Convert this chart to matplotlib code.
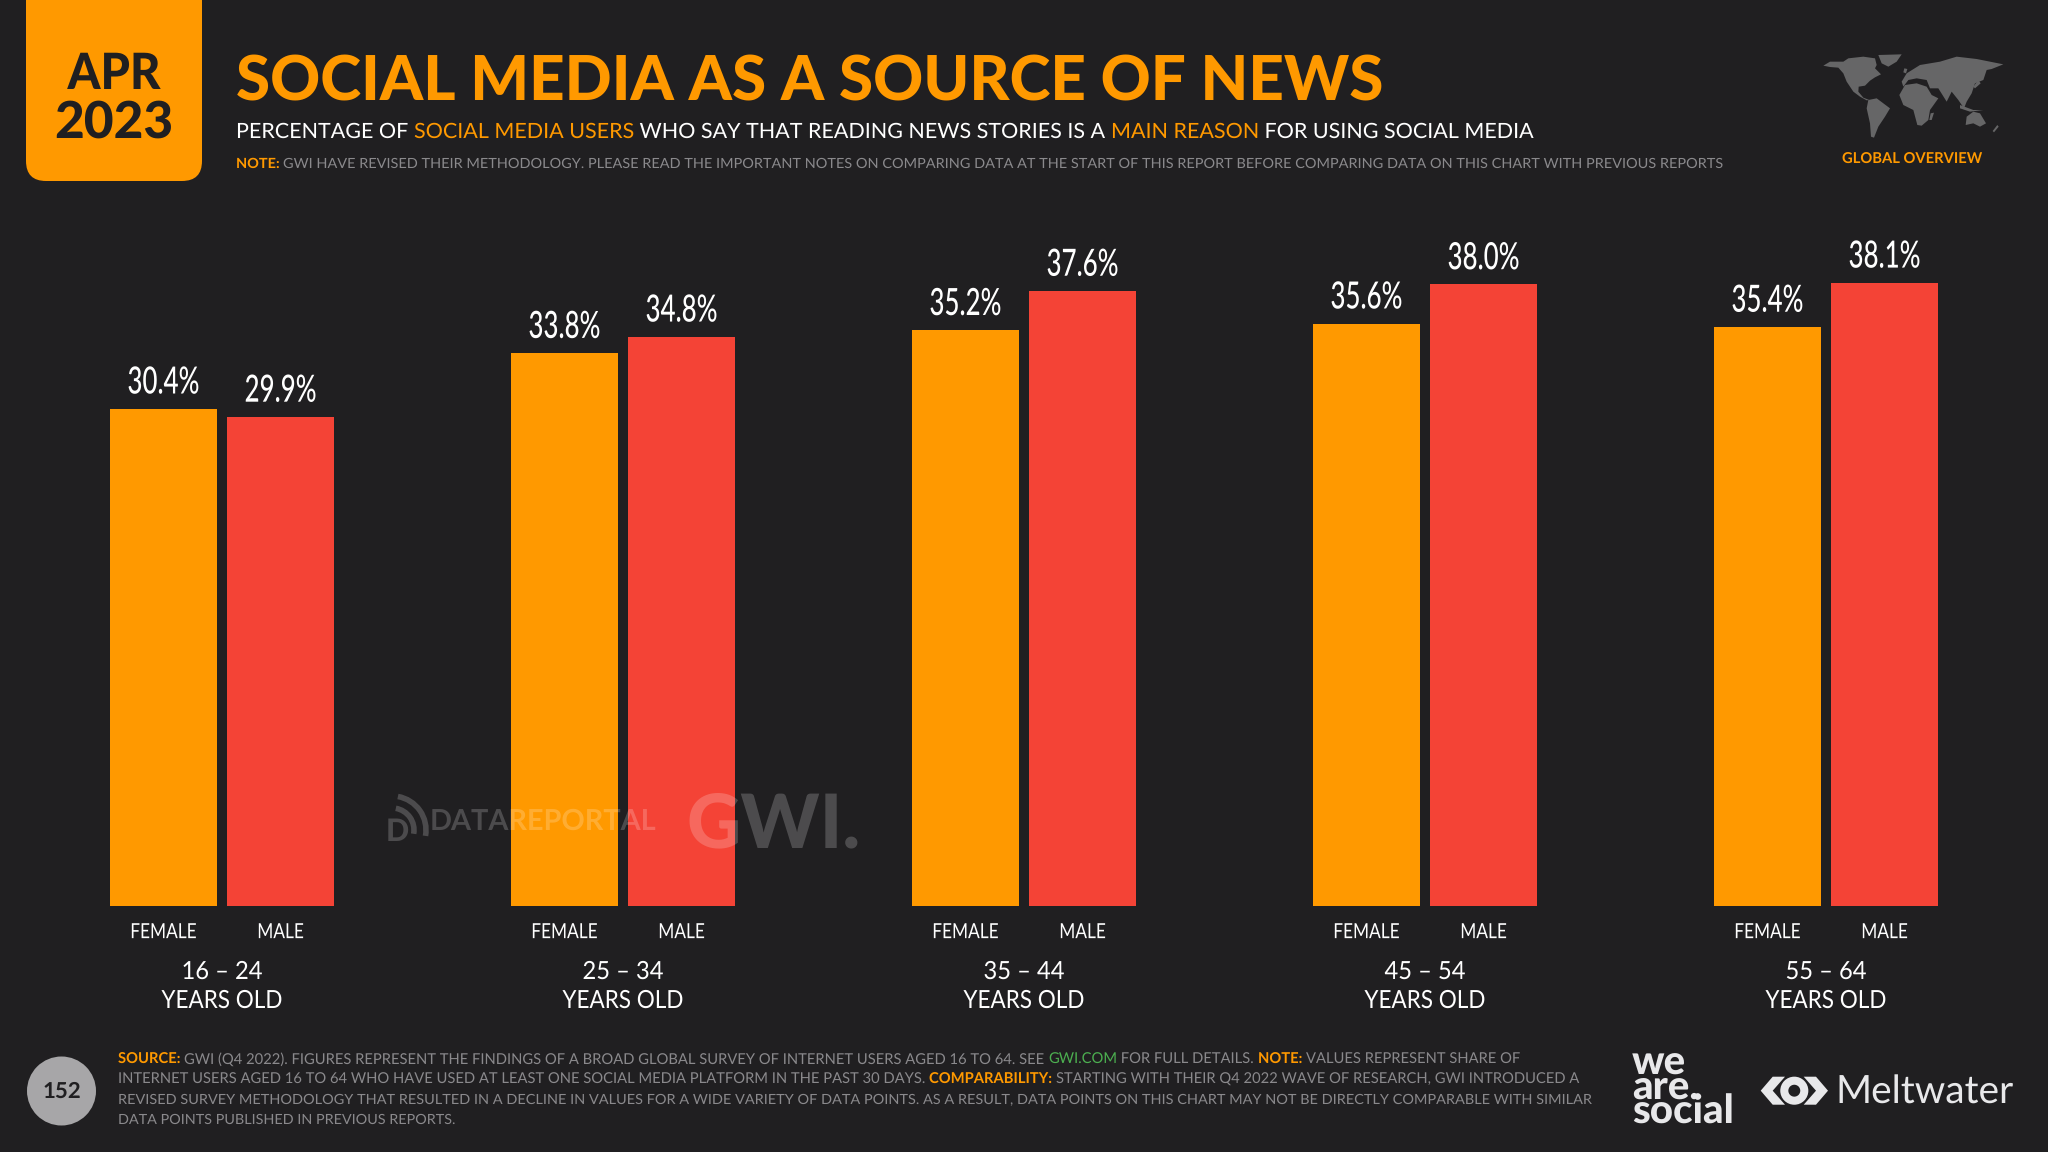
import matplotlib
matplotlib.use("Agg")
import matplotlib.pyplot as plt
from matplotlib.patches import FancyBboxPatch, Circle, Polygon, Arc
from matplotlib.patheffects import AbstractPathEffect
from matplotlib.transforms import Affine2D

plt.rcParams["text.hinting"] = "no_hinting"

BG = "#201f21"
ORANGE = "#ff9900"
RED = "#f44336"
GREY = "#8a898c"
FONT = ["Lato", "DejaVu Sans"]

age_groups = ["16 – 24", "25 – 34", "35 – 44", "45 – 54", "55 – 64"]
female = [30.4, 33.8, 35.2, 35.6, 35.4]
male = [29.9, 34.8, 37.6, 38.0, 38.1]

W, H = 2048, 1152
fig = plt.figure(figsize=(W / 100, H / 100), dpi=100, facecolor=BG)


class Squeeze(AbstractPathEffect):
    # no condensed font is installed, so narrow the glyphs around their centre
    def __init__(self, sx):
        super().__init__()
        self.sx = sx

    def draw_path(self, renderer, gc, tpath, affine, rgbFace=None):
        e = tpath.get_extents()
        c = (e.x0 + e.x1) / 2
        a = Affine2D().translate(-c, 0).scale(self.sx, 1).translate(c, 0) + affine
        renderer.draw_path(gc, tpath, a, rgbFace)


# chart axes, one x unit is one age group
ax = fig.add_axes([21.5 / W, (H - 906) / H, 2005 / W, 736 / H], facecolor="none")
bw = 0.267
off = 0.146
xs = list(range(len(age_groups)))
b1 = ax.bar([x - off for x in xs], female, bw, color=ORANGE)
b2 = ax.bar([x + off for x in xs], male, bw, color=RED)
ax.set_xlim(-0.5, 4.5)
ax.set_ylim(0, 45)
ax.set_yticks([])
for s in ax.spines.values():
    s.set_visible(False)

ax.set_xticks([x - off for x in xs] + [x + off for x in xs])
ax.set_xticklabels(["FEMALE"] * 5 + ["MALE"] * 5, color="white", fontsize=15, family=FONT)
ax.tick_params(axis="x", length=0, pad=12)
for lab in ax.get_xticklabels():
    lab.set_path_effects([Squeeze(0.83)])

for bars, vals in ((b1, female), (b2, male)):
    for r, v in zip(bars, vals):
        ax.annotate(f"{v:.1f}%", (r.get_x() + r.get_width() / 2, v), xytext=(0, 11),
                    textcoords="offset points", ha="center", va="baseline",
                    color="white", fontsize=27, family=FONT, weight="medium",
                    path_effects=[Squeeze(0.69)])

for x, g in zip(xs, age_groups):
    for txt, dy, sq in ((g, -73 * 0.72, 0.95), ("YEARS OLD", -102 * 0.72, 0.9)):
        ax.annotate(txt, (x, 0), xycoords=ax.get_xaxis_transform(), xytext=(0, dy),
                    textcoords="offset points", ha="center", va="baseline",
                    color="white", fontsize=18, family=FONT, path_effects=[Squeeze(sq)])

# overlay in pixel coordinates for the slide furniture
ov = fig.add_axes([0, 0, 1, 1], facecolor="none", zorder=5)
ov.set_xlim(0, W)
ov.set_ylim(H, 0)
ov.axis("off")


def measure(s, **kw):
    r = fig.canvas.get_renderer()
    t = ov.text(0, 0, s + "|", **kw)
    a = t.get_window_extent(r).width
    t.set_text("|")
    b = t.get_window_extent(r).width
    t.remove()
    return a - b


def rich(x, y, parts, width):
    # parts: (text, colour, bold); font size is fitted to the target width
    size = 10
    for _ in range(3):
        w = sum(measure(p[0], fontsize=size, family=FONT, weight="bold" if p[2] else "normal") for p in parts)
        size = size * width / w
    for s, c, bold in parts:
        kw = dict(fontsize=size, family=FONT, weight="bold" if bold else "normal")
        ov.text(x, y, s, color=c, va="baseline", **kw)
        x += measure(s, **kw)


# date box
ov.add_patch(FancyBboxPatch((26, -40), 176, 221, boxstyle="round,pad=0,rounding_size=20", fc=ORANGE, ec="none"))
ov.text(114, 89, "APR", fontsize=36, family=FONT, weight="black", color=BG, ha="center", va="baseline",
        path_effects=[Squeeze(0.94)])
ov.text(114, 138, "2023", fontsize=37, family=FONT, weight="black", color=BG, ha="center", va="baseline")

# heading
ov.text(236, 99, "SOCIAL MEDIA AS A SOURCE OF NEWS", fontsize=44.6, family=FONT, weight="black",
        color=ORANGE, va="baseline")
rich(236, 138, [("PERCENTAGE OF ", "white", False), ("SOCIAL MEDIA USERS", ORANGE, False),
                (" WHO SAY THAT READING NEWS STORIES IS A ", "white", False), ("MAIN REASON", ORANGE, False),
                (" FOR USING SOCIAL MEDIA", "white", False)], 1297)
rich(236, 168, [("NOTE: ", ORANGE, True),
                ("GWI HAVE REVISED THEIR METHODOLOGY. PLEASE READ THE IMPORTANT NOTES ON COMPARING DATA "
                 "AT THE START OF THIS REPORT BEFORE COMPARING DATA ON THIS CHART WITH PREVIOUS REPORTS", GREY, False)], 1490)

# world map, rough outlines
north_america = [(40, 62), (60, 50), (100, 50), (115, 40), (160, 35), (195, 40), (200, 60), (195, 70), (213, 88),
                 (195, 97), (180, 107), (165, 122), (146, 125), (145, 140), (160, 158), (178, 165), (170, 166),
                 (150, 155), (130, 140), (110, 110), (100, 85), (85, 68), (60, 66)]
greenland = [(205, 30), (275, 28), (260, 50), (235, 65), (215, 55)]
south_america = [(175, 165), (200, 160), (240, 190), (225, 215), (205, 245), (192, 278), (183, 275), (180, 235), (170, 190)]
africa = [(285, 120), (320, 115), (350, 125), (365, 150), (385, 160), (360, 195), (355, 225), (335, 242), (322, 240),
          (310, 195), (280, 180), (268, 150)]
eurasia = [(275, 110), (290, 85), (330, 60), (390, 50), (440, 35), (500, 42), (580, 58), (545, 72), (530, 75), (520, 105),
           (495, 115), (485, 145), (470, 170), (462, 190), (445, 165), (425, 140), (410, 170), (385, 130), (360, 130),
           (350, 105), (320, 100), (295, 105), (280, 125)]
australia = [(470, 215), (490, 200), (510, 205), (528, 235), (510, 245), (490, 235), (467, 240)]
indonesia = [(450, 180), (490, 195), (520, 195), (480, 200), (450, 190)]
britain = [(283, 70), (292, 72), (288, 85), (280, 82)]
madagascar = [(362, 205), (372, 203), (365, 225), (358, 225)]
new_zealand = [(562, 240), (566, 245), (552, 262), (548, 258)]
japan = [(505, 105), (512, 115), (495, 130), (490, 125)]
for c in (north_america, greenland, south_america, africa, eurasia, australia, indonesia, britain,
          madagascar, new_zealand, japan):
    ov.add_patch(Polygon([(1810 + a / 3, 45 + b / 3) for a, b in c], fc="#666667", ec="none"))
ov.text(1912, 164, "GLOBAL OVERVIEW", fontsize=10.6, family=FONT, weight="bold", color=ORANGE,
        ha="center", va="baseline")

# footer
ov.add_patch(Circle((61.5, 1091), 34.5, fc="#a7a6a8", ec="none"))
ov.text(61.5, 1092, "152", fontsize=16, family=FONT, weight="bold", color=BG, ha="center", va="center")
rich(118, 1064, [("SOURCE: ", ORANGE, True),
                 ("GWI (Q4 2022). FIGURES REPRESENT THE FINDINGS OF A BROAD GLOBAL SURVEY OF INTERNET USERS AGED 16 TO 64. SEE ", GREY, False),
                 ("GWI.COM", "#4caf50", False), (" FOR FULL DETAILS. ", GREY, False), ("NOTE: ", ORANGE, True),
                 ("VALUES REPRESENT SHARE OF", GREY, False)], 1406)
rich(118, 1084, [("INTERNET USERS AGED 16 TO 64 WHO HAVE USED AT LEAST ONE SOCIAL MEDIA PLATFORM IN THE PAST 30 DAYS. ", GREY, False),
                 ("COMPARABILITY: ", ORANGE, True),
                 ("STARTING WITH THEIR Q4 2022 WAVE OF RESEARCH, GWI INTRODUCED A", GREY, False)], 1466)
rich(118, 1104, [("REVISED SURVEY METHODOLOGY THAT RESULTED IN A DECLINE IN VALUES FOR A WIDE VARIETY OF DATA POINTS. AS A RESULT, "
                  "DATA POINTS ON THIS CHART MAY NOT BE DIRECTLY COMPARABLE WITH SIMILAR", GREY, False)], 1468)
rich(118, 1124, [("DATA POINTS PUBLISHED IN PREVIOUS REPORTS.", GREY, False)], 336)

# logos
LOGO = "#e8e8ea"
ov.text(1632, 1124, "we\nare.\nsocial", fontsize=29, family=FONT, weight="black", color=LOGO, va="baseline",
        linespacing=0.61)
ov.add_patch(Polygon([(1760.7, 1090.7), (1772.7, 1076.7), (1785, 1076.7), (1772.7, 1090.7), (1785, 1104.7), (1772.7, 1104.7)],
                     fc=LOGO, ec="none"))
ov.add_patch(Polygon([(1828, 1090.7), (1816, 1076.7), (1803.7, 1076.7), (1816, 1090.7), (1803.7, 1104.7), (1816, 1104.7)],
                     fc=LOGO, ec="none"))
ov.add_patch(Circle((1794.3, 1090.7), 10, fc="none", ec=LOGO, lw=5.8))
ov.text(1835, 1104, "Meltwater", fontsize=28, family=FONT, weight="normal", color=LOGO, va="baseline")

# watermarks sit over the bars
WM = dict(color="white", alpha=0.2, va="baseline")
ov.text(430, 830, "DATAREPORTAL", fontsize=20.8, family=FONT, weight="bold", **WM)
ov.text(686, 847, "GWI.", fontsize=54, family=FONT, weight="black", **WM)
for d in (22, 34):
    ov.add_patch(Arc((392, 830), d * 2, d * 2, theta1=-80, theta2=10, color="white", alpha=0.2, lw=4))
ov.text(386, 841, "D", fontsize=22, family=FONT, weight="black", **WM)

fig.savefig("out.png", dpi=100, facecolor=BG)
